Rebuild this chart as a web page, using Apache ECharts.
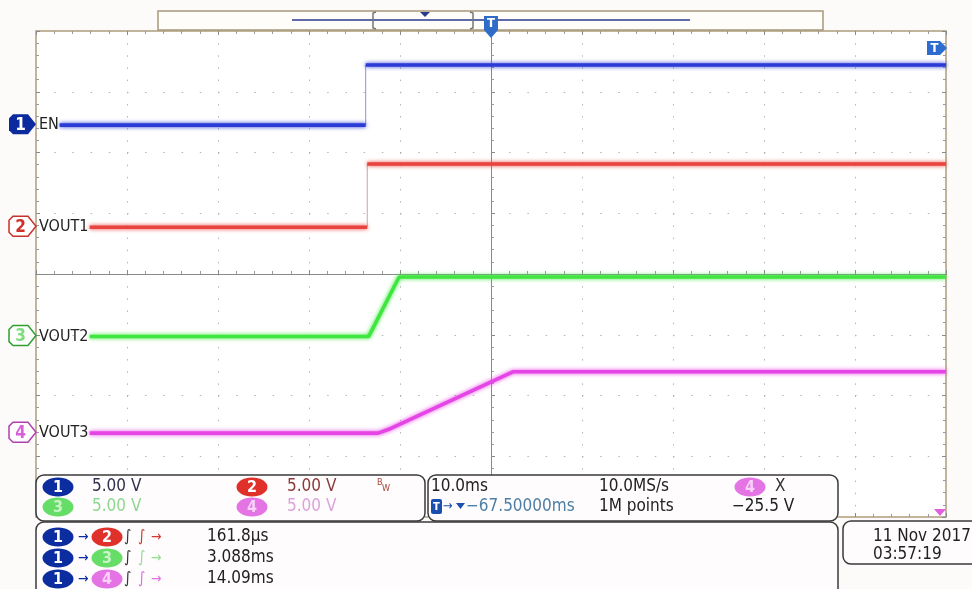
<!DOCTYPE html>
<html><head><meta charset="utf-8">
<script src="https://cdn.jsdelivr.net/npm/echarts@6/dist/echarts.min.js"></script>
<style>html,body{margin:0;padding:0;background:#fdfafa;}#c{width:972px;height:589px;}</style>
</head><body><div id="c"></div>
<script>
// Horizontal: time in ms relative to trigger (10 ms/div). Vertical: screen divisions.
const timeMin = -50, timeMax = 50, timePerDiv = 10;
const divMin = -4, divMax = 4;
const voltsPerDiv = 5;
// channel ground-level offsets (divisions)
const channelNames = ['EN', 'VOUT1', 'VOUT2', 'VOUT3'];
const channelOffsets = [2.45, 0.77, -1.03, -2.62];
const channelColors = ['#2b3bd6', '#e8433e', '#3fe63f', '#e545e5'];
const edgeColors = ['#8d93c8', '#c9a3a3', '#9adf9a', '#e0a0e0'];
// waveforms
const enTime = [-47.4, -13.77, -13.77, 50];
const enVolts = [0, 0, 4.95, 4.95];
const vout1Time = [-44.1, -13.6, -13.6, 50];
const vout1Volts = [0, 0, 5.2, 5.2];
const vout2Time = [-44.1, -13.45, -10.1, 50];
const vout2Volts = [0, 0, 4.9, 4.9];
const vout3Time = [-44.1, -12.4, -11.3, 2.4, 50];
const vout3Volts = [0, 0, 0.3, 5.05, 5.05];
const triggerLevelDiv = 3.72;
// readouts
const chScaleLabels = ['5.00 V', '5.00 V', '5.00 V', '5.00 V'];
const horizScale = '10.0ms', sampleRate = '10.0MS/s', recordLen = '1M points', trigPos = '\u221267.50000ms', trigLevel = '\u221225.5 V';
const measValues = ['161.8\u00b5s', '3.088ms', '14.09ms'];
const dateText = '11 Nov 2017', timeText = '03:57:19';

const waves = [[enTime, enVolts], [vout1Time, vout1Volts], [vout2Time, vout2Volts], [vout3Time, vout3Volts]];
const FONT = '"DejaVu Sans Condensed","DejaVu Sans",sans-serif';

const chart = echarts.init(document.getElementById('c'), null, {renderer: 'canvas'});
const gridCol = '#b5b5b5';
function xAx(extra) {
  return Object.assign({type: 'value', min: timeMin, max: timeMax, interval: timePerDiv,
    axisLabel: {show: false}, splitLine: {show: false},
    axisLine: {show: true, lineStyle: {color: '#8a8a8a', width: 1}},
    axisTick: {show: true, inside: true, length: 4, lineStyle: {color: '#8a8a8a'}},
    minorTick: {show: true, splitNumber: 5, length: 3, lineStyle: {color: '#9a9a9a'}}}, extra);
}
function yAx(extra) {
  return Object.assign({type: 'value', min: divMin, max: divMax, interval: 1,
    axisLabel: {show: false}, splitLine: {show: false},
    axisLine: {show: true, lineStyle: {color: '#8a8a8a', width: 1}},
    axisTick: {show: true, inside: true, length: 4, lineStyle: {color: '#8a8a8a'}},
    minorTick: {show: true, splitNumber: 5, length: 3, lineStyle: {color: '#9a9a9a'}}}, extra);
}
// split each waveform into drawn level/ramp parts and thin fast edges (vertical steps)
const levelSeries = [], edgeSeries = [];
waves.forEach((w, i) => {
  const lv = [], ed = [];
  for (let k = 0; k < w[0].length; k++) {
    const p = [w[0][k], channelOffsets[i] + w[1][k] / voltsPerDiv];
    if (k > 0 && w[0][k] === w[0][k - 1]) {
      ed.push([w[0][k - 1], channelOffsets[i] + w[1][k - 1] / voltsPerDiv], p, '-');
      lv.push('-');
    }
    lv.push(p);
  }
  levelSeries.push({
    type: 'line', name: channelNames[i], symbol: 'none', xAxisIndex: 0, yAxisIndex: 0, connectNulls: false,
    data: lv,
    lineStyle: {color: channelColors[i], width: 3.6, shadowBlur: 4, shadowColor: channelColors[i]},
    z: 4 + i
  });
  if (ed.length) edgeSeries.push({
    type: 'line', name: channelNames[i] + ' edge', symbol: 'none', xAxisIndex: 0, yAxisIndex: 0,
    data: ed, lineStyle: {color: edgeColors[i], width: 1}, z: 3
  });
});
const option = {
  animation: false,
  backgroundColor: '#fdfafa',
  grid: {left: 36, top: 31, width: 910, height: 486, show: true, backgroundColor: '#ffffff', borderColor: '#ad9d7c', borderWidth: 1.5},
  xAxis: [
    xAx({axisLine: {onZero: true, onZeroAxisIndex: 0, lineStyle: {color: '#8a8a8a'}},
      splitLine: {show: true, lineStyle: {color: gridCol, type: [1.5, 10.65], width: 1}}}),
    xAx({axisLine: {onZero: true, onZeroAxisIndex: 0, lineStyle: {color: '#8a8a8a'}}, axisTick: {show: true, inside: false, length: 4, lineStyle: {color: '#8a8a8a'}}}),
    xAx({position: 'top', axisLine: {show: false, onZero: false}}),
    xAx({position: 'bottom', axisLine: {show: false, onZero: false}})
  ],
  yAxis: [
    yAx({axisLine: {onZero: true, onZeroAxisIndex: 0, lineStyle: {color: '#8a8a8a'}},
      splitLine: {show: true, lineStyle: {color: gridCol, type: [1.5, 16.7], width: 1}}}),
    yAx({axisLine: {onZero: true, onZeroAxisIndex: 0, lineStyle: {color: '#8a8a8a'}}, axisTick: {show: true, inside: false, length: 4, lineStyle: {color: '#8a8a8a'}}}),
    yAx({position: 'left', axisLine: {show: false, onZero: false}}),
    yAx({position: 'right', axisLine: {show: false, onZero: false}})
  ],
  series: edgeSeries.concat(levelSeries)
};
chart.setOption(option);

// ---- overlays (scope annotations) ----
const px = t => chart.convertToPixel({xAxisIndex: 0}, t);
const py = d => chart.convertToPixel({yAxisIndex: 0}, d);
const G = [];
function txt(x, y, s, fill, size, extra) {
  G.push(Object.assign({type: 'text', z: 100, style: {x: x, y: y, text: s, fill: fill, font: (size || 15) + 'px ' + FONT, verticalAlign: 'middle', align: 'left'}}, extra || {}));
}
function rrect(x, y, w, h, r, fill, stroke, lw) {
  G.push({type: 'rect', z: 99, shape: {x: x, y: y, width: w, height: h, r: r}, style: {fill: fill, stroke: stroke, lineWidth: lw || 1.5}});
}
function badge(cx, cy, col, num, numCol) {
  G.push({type: 'ellipse', z: 100, shape: {cx: cx, cy: cy, rx: 15.5, ry: 9.5}, style: {fill: col}});
  G.push({type: 'text', z: 101, style: {x: cx, y: cy + 1, text: num, fill: numCol, font: 'bold 16px ' + FONT, align: 'center', verticalAlign: 'middle'}});
}
// channel ground markers on the left
const badgeNumCols = ['#ffffff', '#d0302a', '#7fdc7f', '#d860d8'];
const badgeStroke = [null, '#c8302a', '#2f9f2f', '#b040b0'];
channelNames.forEach((name, i) => {
  const y = py(channelOffsets[i]) - 1;
  const pts = [[13, y - 10], [28, y - 10], [36, y], [28, y + 10], [13, y + 10], [9, y + 6], [9, y - 6]];
  if (i === 0) {
    G.push({type: 'polygon', z: 100, shape: {points: pts}, style: {fill: '#0b2a9e'}});
  } else {
    G.push({type: 'polygon', z: 100, shape: {points: pts}, style: {fill: '#ffffff', stroke: badgeStroke[i], lineWidth: 1.5}});
  }
  G.push({type: 'text', z: 101, style: {x: 20.5, y: y + 1, text: String(i + 1), fill: badgeNumCols[i], font: 'bold 17px ' + FONT, align: 'center', verticalAlign: 'middle'}});
  txt(39, y + 1, name, '#222222', 16);
});
// top record bar
rrect(158, 11, 665, 19, 0, '#fffdf9', '#a8987a', 1.5);
G.push({type: 'line', z: 100, shape: {x1: 292, y1: 20, x2: 690, y2: 20}, style: {stroke: '#2a3a8a', lineWidth: 1.5}});
[[373, 1], [473, -1]].forEach(([x, d]) => {
  G.push({type: 'polyline', z: 100, shape: {points: [[x + 3 * d, 12], [x, 13], [x, 28], [x + 3 * d, 29]]}, style: {stroke: '#777', lineWidth: 1.5, fill: null}});
});
G.push({type: 'polygon', z: 100, shape: {points: [[420, 12], [430, 12], [425, 17]]}, style: {fill: '#2a3a8a'}});
const x0 = px(0);
G.push({type: 'polygon', z: 100, shape: {points: [[x0 - 7, 16], [x0 + 7, 16], [x0 + 7, 30], [x0, 38], [x0 - 7, 30]]}, style: {fill: '#2e6cc8'}});
G.push({type: 'text', z: 101, style: {x: x0, y: 24, text: 'T', fill: '#fff', font: 'bold 13px ' + FONT, align: 'center', verticalAlign: 'middle'}});
// trigger level marker at right
const yt = py(triggerLevelDiv);
G.push({type: 'polygon', z: 100, shape: {points: [[927, yt - 7], [940, yt - 7], [947, yt], [940, yt + 7], [927, yt + 7]]}, style: {fill: '#2e6cd0'}});
G.push({type: 'text', z: 101, style: {x: 934.5, y: yt + 1, text: 'T', fill: '#fff', font: 'bold 13px ' + FONT, align: 'center', verticalAlign: 'middle'}});
// ch4 off-screen indicator
G.push({type: 'polygon', z: 100, shape: {points: [[934, 509], [946, 509], [940, 516]]}, style: {fill: '#e060e0'}});

const FS = 17;
// readout box 1
rrect(36, 475, 389, 46, 8, '#fefcfc', '#3a3a3a');
const r1 = 487, r2 = 507;
badge(58, r1, '#0c2da0', '1', '#fff'); txt(92, r1, chScaleLabels[0], '#30304e', FS);
badge(252, r1, '#e0302a', '2', '#fff'); txt(287, r1, chScaleLabels[1], '#8b3a3a', FS);
badge(58, r2, '#66dd66', '3', '#c8f5c8'); txt(92, r2, chScaleLabels[2], '#8fd88f', FS);
badge(252, r2, '#e474e4', '4', '#fbd0fb'); txt(287, r2, chScaleLabels[3], '#dba3db', FS);
txt(377, 483, 'B', '#a0453a', 9); txt(382, 489, 'W', '#a0453a', 9);
// readout box 2
rrect(428, 475, 410, 46, 8, '#fefcfc', '#3a3a3a');
txt(431, r1, horizScale, '#222', FS);
G.push({type: 'rect', z: 100, shape: {x: 431, y: r2 - 8, width: 11, height: 15, r: 2}, style: {fill: '#1a4fb0'}});
G.push({type: 'text', z: 101, style: {x: 436.5, y: r2, text: 'T', fill: '#fff', font: 'bold 11px ' + FONT, align: 'center', verticalAlign: 'middle'}});
txt(443, r2, '\u2192', '#1a4fb0', 13);
G.push({type: 'polygon', z: 100, shape: {points: [[456, r2 - 4], [465, r2 - 4], [460.5, r2 + 2]]}, style: {fill: '#1a4fb0'}});
txt(466, r2, trigPos, '#4d7fa6', FS);
txt(599, r1, sampleRate, '#222', FS);
txt(599, r2, recordLen, '#222', FS);
badge(750, r1, '#e474e4', '4', '#fbd0fb');
txt(775, r1, 'X', '#333', FS);
txt(732, r2, trigLevel, '#222', FS);
// measurement box
rrect(36, 522, 802, 90, 8, '#fefcfc', '#3a3a3a');
const mRows = [537, 558, 579];
const mCols = ['#e0302a', '#66dd66', '#e474e4'];
const mArrowCols = ['#d03a30', '#8fe08f', '#e070e0'];
const mNumCols = ['#fff', '#c8f5c8', '#fbd0fb'];
mRows.forEach((y, i) => {
  badge(58, y, '#0c2da0', '1', '#fff');
  txt(78, y, '\u2192', '#0c2da0', 14);
  badge(107, y, mCols[i], String(i + 2), mNumCols[i]);
  txt(124, y, '\u222b', '#333', 16);
  txt(138, y, '\u222b', mArrowCols[i], 16);
  txt(151, y, '\u2192', mArrowCols[i], 14);
  txt(207, y, measValues[i], '#222', FS);
});
// date box
rrect(843, 521, 140, 43, 8, '#fefcfc', '#3a3a3a');
txt(873, 537, dateText, '#222', FS);
txt(873, 555, timeText, '#222', FS);

chart.setOption({graphic: {elements: G}});
</script></body></html>
